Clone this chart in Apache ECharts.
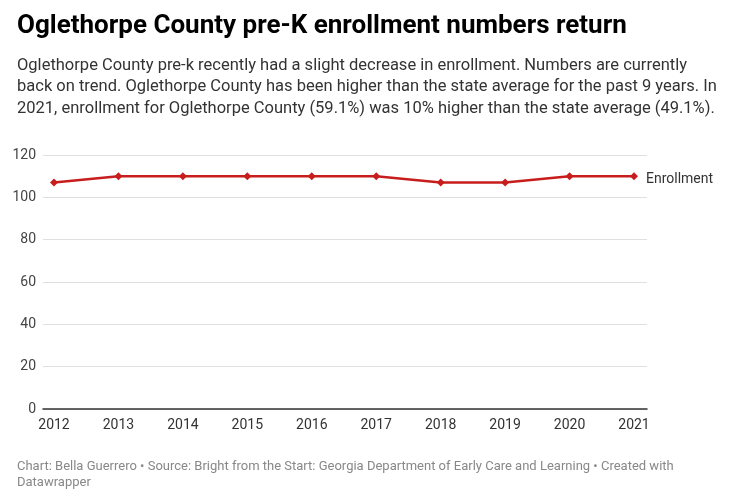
<!DOCTYPE html>
<html>
<head>
<meta charset="utf-8">
<script src="https://cdn.jsdelivr.net/npm/echarts@6/dist/echarts.min.js"></script>
<style>
  html, body { margin: 0; padding: 0; background: #fff; }
  #chart { width: 738px; height: 500px; }
</style>
</head>
<body>
<div id="chart"></div>
<script>
// data
var years = ['2012', '2013', '2014', '2015', '2016', '2017', '2018', '2019', '2020', '2021'];
var enrollment = [107, 110, 110, 110, 110, 110, 107, 107, 110, 110];
var seriesName = 'Enrollment';
var yTicks = [0, 20, 40, 60, 80, 100, 120];

var titleText = 'Oglethorpe County pre-K enrollment numbers return';
var subLines = [
  'Oglethorpe County pre-k recently had a slight decrease in enrollment. Numbers are currently',
  'back on trend. Oglethorpe County has been higher than the state average for the past 9 years. In',
  '2021, enrollment for Oglethorpe County (59.1%) was 10% higher than the state average (49.1%).'
];
var footLines = [
  'Chart: Bella Guerrero \u2022 Source: Bright from the Start: Georgia Department of Early Care and Learning \u2022 Created with',
  'Datawrapper'
];

var font = 'Roboto, "Noto Sans", sans-serif';
var chart = echarts.init(document.getElementById('chart'));

chart.setOption({
  backgroundColor: '#fff',
  animation: false,
  textStyle: { fontFamily: font },
  title: [{
    text: titleText,
    left: 12, top: 8,
    textStyle: { fontFamily: font, fontSize: 26, fontWeight: 'bold', color: '#000' }
  }, {
    text: subLines.join('\n'),
    left: 12, top: 50,
    textStyle: { fontFamily: font, fontSize: 16.5, fontWeight: 'normal', color: '#333', lineHeight: 21.5 }
  }, {
    text: footLines.join('\n'),
    left: 12, top: 454,
    textStyle: { fontFamily: font, fontSize: 13, fontWeight: 'normal', color: '#888', lineHeight: 16 }
  }],
  grid: [
    // background grid with gridlines and y labels
    { left: 43, right: 91, top: 155, bottom: 91, containLabel: false },
    // data grid
    { left: 54, right: 104, top: 155, bottom: 91, containLabel: false }
  ],
  xAxis: [{
    gridIndex: 0, type: 'value', min: 0, max: 1,
    axisLine: { show: true, lineStyle: { color: '#333', width: 1.5 } },
    axisTick: { show: false }, axisLabel: { show: false }, splitLine: { show: false }
  }, {
    gridIndex: 1, type: 'category', data: years, boundaryGap: false,
    axisLine: { show: false }, axisTick: { show: false },
    axisLabel: { color: '#333', fontSize: 14, margin: 9, fontFamily: font, interval: 0 }
  }],
  yAxis: [{
    gridIndex: 0, type: 'value', min: 0, max: 120, interval: 20,
    axisLine: { show: false }, axisTick: { show: false },
    axisLabel: { color: '#444', fontSize: 14, margin: 7, fontFamily: font },
    splitLine: { show: true, lineStyle: { color: '#e0e0e0', width: 1 } }
  }, {
    gridIndex: 1, type: 'value', min: 0, max: 120, interval: 20, show: false
  }],
  series: [{
    name: seriesName,
    type: 'line',
    xAxisIndex: 1, yAxisIndex: 1,
    data: enrollment,
    symbol: 'diamond', symbolSize: 8,
    lineStyle: { color: '#c71e1d', width: 2.5 },
    itemStyle: { color: '#c71e1d' },
    endLabel: {
      show: true, formatter: seriesName, distance: 12, offset: [0, 3],
      color: '#333', fontSize: 14, fontFamily: font
    }
  }]
});
</script>
</body>
</html>
